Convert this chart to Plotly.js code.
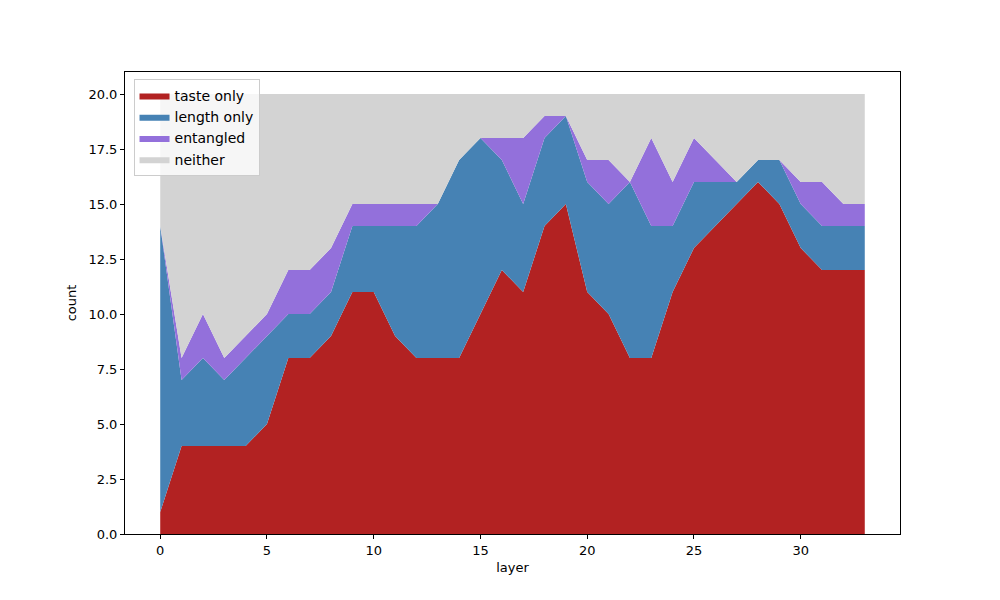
<!DOCTYPE html>
<html>
<head>
<meta charset="utf-8">
<script src="https://cdn.plot.ly/plotly-3.0.1.min.js"></script>
<style>
  html, body { margin: 0; padding: 0; background: #fff; }
  #chart { width: 1000px; height: 600px; }
</style>
</head>
<body>
<div id="chart"></div>
<script>
// counts per layer
const layers = Array.from({ length: 34 }, (_, i) => i);
const tasteOnly  = [1,4,4,4,4,5,8,8,9,11,11,9,8,8,8,10,12,11,14,15,11,10,8,8,11,13,14,15,16,15,13,12,12,12];
const lengthOnly = [13,3,4,3,4,4,2,2,2,3,3,5,6,7,9,8,5,4,4,4,5,5,8,6,3,3,2,1,1,2,2,2,2,2];
const entangled  = [0,1,2,1,1,1,2,2,2,1,1,1,1,0,0,0,1,3,1,0,1,2,0,4,2,2,1,0,0,0,1,2,1,1];
const neither    = [6,12,10,12,11,10,8,8,7,5,5,5,5,5,3,2,2,2,1,1,3,3,4,2,4,2,3,4,3,3,4,4,5,5];

const seriesNames = ['taste only', 'length only', 'entangled', 'neither'];
const seriesValues = [tasteOnly, lengthOnly, entangled, neither];
const seriesColors = ['#b22222', '#4682b4', '#9370db', '#d3d3d3'];

const traces = seriesNames.map((name, i) => ({
    x: layers,
    y: seriesValues[i],
    name: name,
    type: 'scatter',
    mode: 'lines',
    stackgroup: 'one',
    fillcolor: seriesColors[i],
    line: { width: 0, color: seriesColors[i] },
}));

const axisCommon = {
    showline: true,
    mirror: true,
    linecolor: '#000',
    linewidth: 1,
    ticks: 'outside',
    ticklen: 4,
    tickwidth: 1,
    tickcolor: '#000',
    showgrid: false,
    zeroline: false,
    tickfont: { size: 13, color: '#000' },
};

const layout = {
    width: 1000,
    height: 600,
    paper_bgcolor: '#fff',
    plot_bgcolor: '#fff',
    font: { family: 'DejaVu Sans, sans-serif', size: 13, color: '#000' },
    margin: { l: 125, r: 100, t: 72, b: 66 },
    showlegend: true,
    hovermode: false,
    xaxis: Object.assign({}, axisCommon, {
        range: [-1.65, 34.65],
        tickvals: [0, 5, 10, 15, 20, 25, 30],
        title: { text: 'layer', font: { size: 13 }, standoff: 6 },
    }),
    yaxis: Object.assign({}, axisCommon, {
        range: [0, 21],
        tickvals: [0, 2.5, 5, 7.5, 10, 12.5, 15, 17.5, 20],
        tickformat: '.1f',
        title: { text: 'count', font: { size: 13 }, standoff: 8 },
    }),
    legend: {
        x: 0.011,
        y: 0.985,
        xanchor: 'left',
        yanchor: 'top',
        traceorder: 'normal',
        bgcolor: 'rgba(255,255,255,0.8)',
        bordercolor: '#cccccc',
        borderwidth: 1,
        font: { size: 14 },
        itemwidth: 30,
        tracegroupgap: 0,
    },
};

Plotly.newPlot('chart', traces, layout, { staticPlot: true, displayModeBar: false });
</script>
</body>
</html>
